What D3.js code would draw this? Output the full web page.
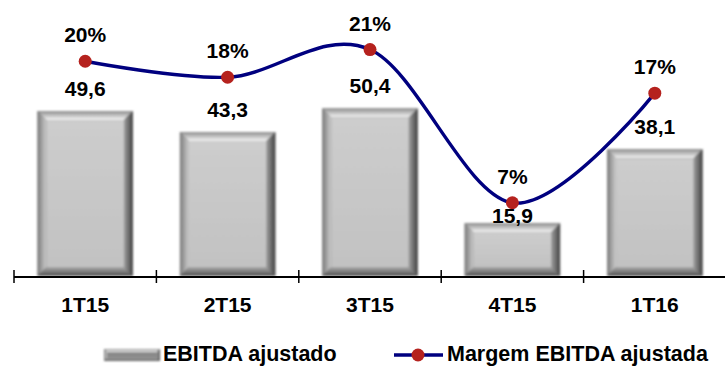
<!DOCTYPE html>
<html>
<head>
<meta charset="utf-8">
<script src="https://cdn.jsdelivr.net/npm/d3@7"></script>
<style>
  body { margin: 0; background: #fff; }
  svg { display: block; font-family: "Liberation Sans", Arial, sans-serif; font-weight: bold; }
</style>
</head>
<body>
<div id="chart"></div>
<script>
// data
const quarters = ["1T15", "2T15", "3T15", "4T15", "1T16"];
const ebitda = [49.6, 43.3, 50.4, 15.9, 38.1];
const margin = [19.9, 18.4, 21.0, 6.6, 16.9];
const legendLabels = ["EBITDA ajustado", "Margem EBITDA ajustada"];

const width = 725, height = 367;
const baseY = 276;

const svg = d3.select("#chart").append("svg")
  .attr("width", width)
  .attr("height", height);

const defs = svg.append("defs");

// gradients for the bevelled bars
function grad(id, x2, y2, stops) {
  const g = defs.append("linearGradient").attr("id", id)
    .attr("x1", 0).attr("y1", 0).attr("x2", x2).attr("y2", y2);
  stops.forEach(s => g.append("stop").attr("offset", s[0]).attr("stop-color", s[1]));
}
grad("bevTop", 0, 1, [[0, "#8e8e8e"], [1, "#f6f6f6"]]);
grad("bevLeft", 1, 0, [[0, "#7a7a7a"], [1, "#cccccc"]]);
grad("bevRight", 1, 0, [[0, "#a0a0a0"], [1, "#404040"]]);
grad("bevBottom", 0, 1, [[0, "#aaaaaa"], [1, "#505050"]]);
grad("face", 0, 1, [[0, "#cdcdcd"], [1, "#c2c2c2"]]);
defs.append("filter").attr("id", "soft")
  .append("feGaussianBlur").attr("stdDeviation", 0.8);

// scales
const x = d3.scaleBand().domain(quarters).range([14, 726]).paddingInner(0.33).paddingOuter(0.165);
const xc = d => x(d) + x.bandwidth() / 2;
const yBar = d3.scaleLinear().domain([0, 80]).range([baseY, 10]);
const yPct = d3.scaleLinear().domain([0, 25]).range([273, 7]);

// bars
function bevelBar(g, x0, y0, w, h, b, face) {
  const x1 = x0 + w, y1 = y0 + h;
  const inner = g.append("g").attr("filter", "url(#soft)");
  inner.append("rect").attr("x", x0).attr("y", y0).attr("width", w).attr("height", h).attr("fill", "#6e6e6e");
  inner.append("polygon").attr("fill", "url(#bevTop)")
    .attr("points", [[x0, y0], [x1, y0], [x1 - b, y0 + b], [x0 + b, y0 + b]].join(" "));
  inner.append("polygon").attr("fill", "url(#bevLeft)")
    .attr("points", [[x0, y0], [x0 + b, y0 + b], [x0 + b, y1 - b], [x0, y1]].join(" "));
  inner.append("polygon").attr("fill", "url(#bevRight)")
    .attr("points", [[x1, y0], [x1, y1], [x1 - b, y1 - b], [x1 - b, y0 + b]].join(" "));
  inner.append("polygon").attr("fill", "url(#bevBottom)")
    .attr("points", [[x0, y1], [x0 + b, y1 - b], [x1 - b, y1 - b], [x1, y1]].join(" "));
  inner.append("rect").attr("x", x0 + b).attr("y", y0 + b)
    .attr("width", w - 2 * b).attr("height", Math.max(0, h - 2 * b)).attr("fill", face || "url(#face)");
}

quarters.forEach((q, i) => {
  const g = svg.append("g");
  const top = yBar(ebitda[i]);
  bevelBar(g, x(q), top, x.bandwidth(), baseY - top, 9);
});

// axis
const axisG = svg.append("g");
axisG.append("line").attr("x1", 14).attr("x2", 725).attr("y1", baseY + 1).attr("y2", baseY + 1)
  .attr("stroke", "#000").attr("stroke-width", 2);
const step = x.step();
d3.range(quarters.length + 1).forEach(k => {
  const tx = 14 + k * step;
  axisG.append("line").attr("x1", tx).attr("x2", tx).attr("y1", baseY - 6).attr("y2", baseY + 7)
    .attr("stroke", "#000").attr("stroke-width", 1.5);
});
axisG.selectAll("text.cat").data(quarters).enter().append("text")
  .attr("x", d => xc(d)).attr("y", 312)
  .attr("text-anchor", "middle").attr("font-size", 21).text(d => d);

// margin line
const pts = quarters.map((q, i) => [xc(q), yPct(margin[i])]);
svg.append("path")
  .attr("d", d3.line().curve(d3.curveCardinal.tension(0))(pts))
  .attr("fill", "none").attr("stroke", "#00007f").attr("stroke-width", 3.4);
svg.selectAll("circle.dot").data(pts).enter().append("circle")
  .attr("cx", d => d[0]).attr("cy", d => d[1]).attr("r", 6.5).attr("fill", "#b5221e");

// labels
const fmt = v => d3.format(".1f")(v).replace(".", ",");
svg.selectAll("text.pct").data(margin).enter().append("text")
  .attr("x", (d, i) => pts[i][0]).attr("y", d => yPct(d) - 19)
  .attr("text-anchor", "middle").attr("font-size", 21).text(d => Math.round(d) + "%");
svg.selectAll("text.val").data(ebitda).enter().append("text")
  .attr("x", (d, i) => xc(quarters[i]))
  .attr("y", (d, i) => Math.max(yBar(d) - 15, pts[i][1] + 20))
  .attr("text-anchor", "middle").attr("font-size", 21).text(d => fmt(d));

// legend
const lg = svg.append("g");
bevelBar(lg, 104, 349, 56, 12, 3, "#8a8a8a");
lg.append("text").attr("x", 163).attr("y", 361).attr("font-size", 21.5).text(legendLabels[0]);
lg.append("line").attr("x1", 394).attr("x2", 443).attr("y1", 355).attr("y2", 355)
  .attr("stroke", "#00007f").attr("stroke-width", 3.4);
lg.append("circle").attr("cx", 418).attr("cy", 355).attr("r", 6.5).attr("fill", "#b5221e");
lg.append("text").attr("x", 447).attr("y", 361).attr("font-size", 21.5).text(legendLabels[1]);
</script>
</body>
</html>
